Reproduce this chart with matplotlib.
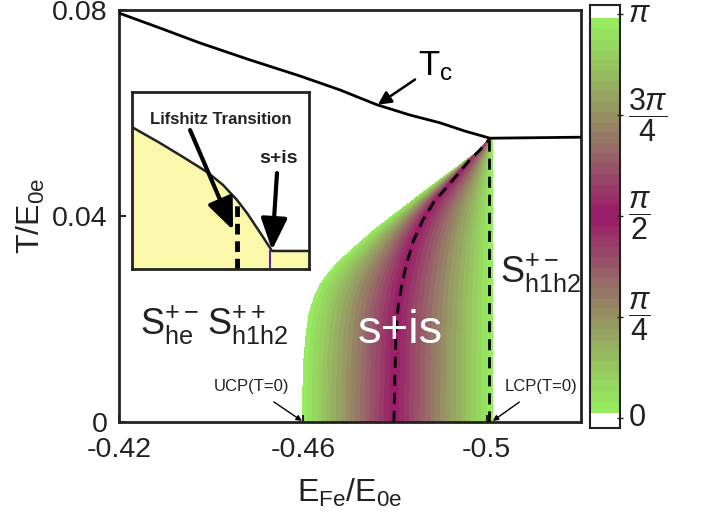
import numpy as np
import matplotlib.pyplot as plt
from matplotlib.colors import LinearSegmentedColormap

plt.rcParams["font.family"] = ["Liberation Sans", "DejaVu Sans"]
plt.rcParams["mathtext.fontset"] = "custom"
plt.rcParams["mathtext.rm"] = "Liberation Sans"
plt.rcParams["mathtext.it"] = "Liberation Sans:italic"
plt.rcParams["mathtext.bf"] = "Liberation Sans:bold"

# critical temperature line T_c(E_Fe)
tc_E = [-0.42, -0.4289, -0.4376, -0.4485, -0.4593, -0.4680, -0.4761, -0.4833,
        -0.4898, -0.4952, -0.5007, -0.5205]
tc_T = [0.0794, 0.0765, 0.0736, 0.0703, 0.0672, 0.0645, 0.0616, 0.0596,
        0.0581, 0.0565, 0.0551, 0.0553]

# left (UCP side) boundary of the s+is dome
left_E = [-0.4600, -0.4600, -0.4602, -0.4607, -0.4613, -0.4624, -0.4637, -0.4657, -0.4680,
          -0.4713, -0.4752, -0.4800, -0.4848, -0.4891, -0.4935, -0.4972, -0.5007]
left_T = [0.0, 0.0062, 0.0120, 0.0169, 0.0208, 0.0241, 0.0266, 0.0291, 0.0313,
          0.0340, 0.0371, 0.0404, 0.0437, 0.0466, 0.0495, 0.0520, 0.0551]

# dashed line where the relative phase is pi/2
mid_E = [-0.4798, -0.4800, -0.4802, -0.4807, -0.4815, -0.4826, -0.4841, -0.4861,
         -0.4885, -0.4913, -0.4941, -0.4963, -0.4985, -0.5007]
mid_T = [0.0, 0.0082, 0.0159, 0.0223, 0.0266, 0.0309, 0.0353, 0.0392,
         0.0427, 0.0456, 0.0485, 0.0509, 0.0528, 0.0551]

# right (LCP side) boundary
lcp_E = -0.5004
edge_E = -0.5012

# inset: schematic T_c near the Lifshitz point (inset axes units)
ins_u = [0.0, 0.158, 0.288, 0.424, 0.514, 0.593, 0.650, 0.706, 0.751, 0.791, 1.0]
ins_v = [0.802, 0.712, 0.633, 0.548, 0.475, 0.390, 0.316, 0.232, 0.164, 0.102, 0.102]
lifshitz_u = 0.593
sis_u = 0.78

cb_ticks = [0, np.pi / 4, np.pi / 2, 3 * np.pi / 4, np.pi]
cb_labels = ["0", r"$\dfrac{\pi}{4}$", r"$\dfrac{\pi}{2}$", r"$\dfrac{3\pi}{4}$", r"$\pi$"]

# phase colormap: green at 0 and pi, magenta at pi/2
cmap = LinearSegmentedColormap.from_list(
    "phase",
    [(0.0, "#96EC5E"), (0.125, "#96BE5F"), (0.25, "#968C64"), (0.375, "#985569"),
     (0.5, "#9B1969"), (0.625, "#985569"), (0.75, "#968C64"), (0.875, "#96BE5F"),
     (1.0, "#96EC5E")],
    N=38,
)

fig = plt.figure(figsize=(7.07, 5.25), dpi=100)
ax = fig.add_axes([0.1683, 0.1962, 0.6535, 0.7848])

# phase field on a curvilinear grid inside the dome
T_grid = np.linspace(0, left_T[-1], 400)
p_grid = np.linspace(0, np.pi, 240)
PP, TT = np.meshgrid(p_grid, T_grid)
xl = np.interp(TT, left_T, left_E)
xm = np.interp(TT, mid_T, mid_E)
EE = np.where(
    PP <= np.pi / 2,
    xl + (xm - xl) * PP / (np.pi / 2),
    xm + (edge_E - xm) * (PP - np.pi / 2) / (np.pi / 2),
)
ax.contourf(EE, TT, PP, levels=np.linspace(0, np.pi, 39), cmap=cmap, zorder=1)

ax.plot(tc_E, tc_T, color="k", lw=2, zorder=3)
ax.plot(mid_E, mid_T, color="k", lw=2, ls=(0, (4, 2.5)), zorder=3)
ax.plot([lcp_E, lcp_E], [0, left_T[-1]], color="k", lw=2, ls=(0, (4, 2.5)), zorder=3)

ax.set_xlim(-0.42, -0.5205)
ax.set_ylim(0, 0.08)
ax.set_xticks([-0.42, -0.46, -0.5])
ax.set_xticklabels(["-0.42", "-0.46", "-0.5"])
ax.set_yticks([0, 0.04, 0.08])
ax.set_yticklabels(["0", "0.04", "0.08"])
ax.tick_params(direction="in", length=5, width=1.5, labelsize=20.5,
               colors="#222222")
ax.tick_params(axis="y", pad=8)
ax.tick_params(axis="x", pad=11)
for sp in ax.spines.values():
    sp.set_linewidth(2)
    sp.set_color("#222222")
ax.set_xlabel(r"$\mathregular{E_{Fe}/E_{0e}}$", fontsize=23, labelpad=10, color="#222222")
ax.set_ylabel(r"$\mathregular{T/E_{0e}}$", fontsize=23, labelpad=4, color="#222222")

# labels in the phase diagram
ax.annotate(r"$\mathregular{T_c}$", xy=(-0.4763, 0.0616), xytext=(-0.4850, 0.0674),
            fontsize=25, ha="left", va="baseline",
            arrowprops=dict(arrowstyle="-|>", lw=1.8, color="k", mutation_scale=20,
                            shrinkA=0, shrinkB=0))
ax.text(-0.4246, 0.0169, r"$\mathregular{S^{+-}_{he}}$", fontsize=26, color="#222222",
        ha="left", va="baseline")
ax.text(-0.4391, 0.0169, r"$\mathregular{S^{++}_{h1h2}}$", fontsize=26, color="#222222",
        ha="left", va="baseline")
ax.text(-0.5028, 0.0270, r"$\mathregular{S^{+-}_{h1h2}}$", fontsize=26, color="#222222",
        ha="left", va="baseline")
ax.text(-0.4720, 0.0153, "s+is", fontsize=34, color="white", ha="left", va="baseline",
        zorder=4)
ax.annotate("UCP(T=0)", xy=(-0.4598, 0.0002), xytext=(-0.4489, 0.0068), fontsize=12,
            ha="center", va="center", color="#222222",
            arrowprops=dict(arrowstyle="-|>", lw=1, color="k", mutation_scale=8,
                            shrinkA=6, shrinkB=0))
ax.annotate("LCP(T=0)", xy=(-0.5013, 0.0002), xytext=(-0.5117, 0.0068), fontsize=12,
            ha="center", va="center", color="#222222",
            arrowprops=dict(arrowstyle="-|>", lw=1, color="k", mutation_scale=8,
                            shrinkA=6, shrinkB=0))

# inset
ax_in = fig.add_axes([0.1867, 0.4876, 0.2504, 0.3371])
ax_in.fill_between(ins_u, ins_v, 0, color="#FBF8AC", lw=0)
ax_in.plot(ins_u, ins_v, color="#222222", lw=1.8)
ax_in.plot([lifshitz_u, lifshitz_u], [0, np.interp(lifshitz_u, ins_u, ins_v)],
           color="k", lw=3.5, ls=(0, (2.2, 1.4)))
ax_in.plot([sis_u, sis_u], [0, ins_v[-1]], color="#5A2A9A", lw=1.5)
ax_in.set_xlim(0, 1)
ax_in.set_ylim(0, 1)
ax_in.set_xticks([])
ax_in.set_yticks([])
for sp in ax_in.spines.values():
    sp.set_linewidth(2)
    sp.set_color("#222222")
ax_in.text(0.503, 0.842, "Lifshitz Transition", fontsize=12, fontweight="bold",
           ha="center", va="center", color="#222222")
ax_in.text(0.825, 0.627, "s+is", fontsize=14, fontweight="bold",
           ha="center", va="center", color="#222222")
ax_in.annotate("", xy=(0.571, 0.220), xytext=(0.328, 0.785),
               arrowprops=dict(arrowstyle="-|>,head_length=0.6,head_width=0.25", lw=3,
                               color="k", mutation_scale=32, shrinkA=0, shrinkB=0))
ax_in.annotate("", xy=(0.791, 0.107), xytext=(0.819, 0.542),
               arrowprops=dict(arrowstyle="-|>,head_length=0.6,head_width=0.25", lw=3,
                               color="k", mutation_scale=32, shrinkA=0, shrinkB=0))

# colorbar
ax_cb = fig.add_axes([0.8345, 0.1848, 0.0424, 0.8057])
grad = np.linspace(0, np.pi, 256).reshape(-1, 1)
ax_cb.imshow(grad, aspect="auto", cmap=cmap, origin="lower",
             extent=[0, 1, 0.04, np.pi - 0.03], vmin=0, vmax=np.pi)
ax_cb.set_xlim(0, 1)
ax_cb.set_ylim(-0.078, np.pi + 0.07)
ax_cb.set_xticks([])
ax_cb.yaxis.tick_right()
ax_cb.set_yticks(cb_ticks)
ax_cb.set_yticklabels(cb_labels)
ax_cb.tick_params(axis="y", direction="inout", length=4, width=1, labelsize=22,
                  pad=4, colors="#222222")
for lbl in ax_cb.get_yticklabels():
    lbl.set_va("center")
for sp in ax_cb.spines.values():
    sp.set_linewidth(1.5)
    sp.set_color("#222222")

fig.savefig("out.png", dpi=100)
